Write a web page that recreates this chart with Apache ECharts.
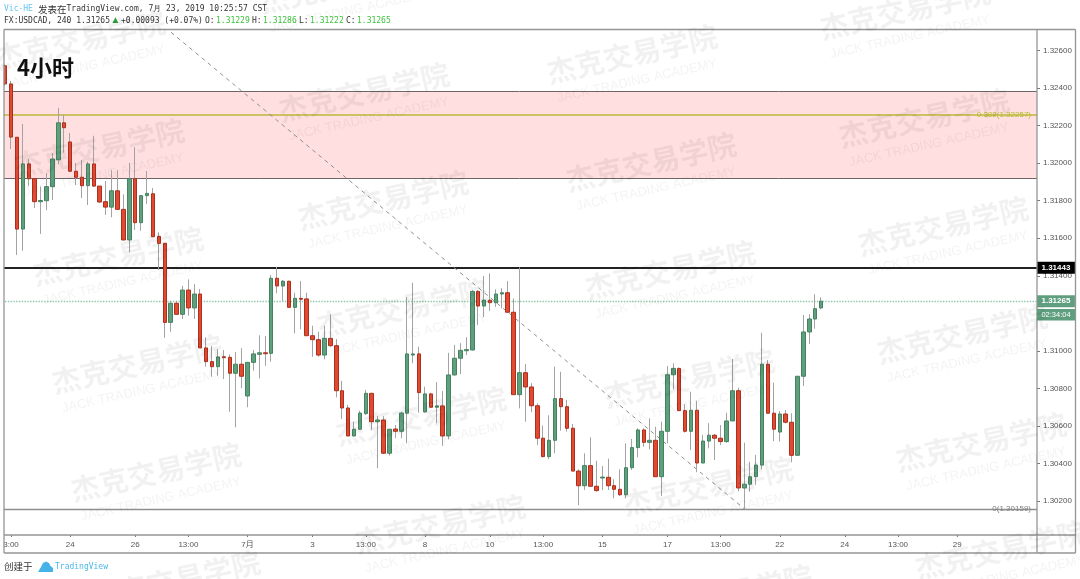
<!DOCTYPE html>
<html><head><meta charset="utf-8">
<style>html,body{margin:0;padding:0;background:#fff}#c{width:1080px;height:579px}</style>
<script src="https://cdn.jsdelivr.net/npm/echarts@6/dist/echarts.min.js"></script>
</head><body><div id="c"></div>
<script>
const opens=[1.32519,1.32422,1.32138,1.31649,1.31996,1.31917,1.31795,1.31800,1.31875,1.32018,
1.32215,1.32113,1.31957,1.31925,1.31880,1.31996,1.31878,1.31795,1.31766,1.31853,
1.31754,1.31591,1.31917,1.31683,1.31827,1.31837,1.31610,1.31573,1.31152,1.31254,
1.31195,1.31324,1.31229,1.31303,1.31016,1.30943,1.30916,1.30969,1.30966,1.30881,
1.30929,1.30760,1.30939,1.30982,1.30990,1.30987,1.31387,1.31346,1.31371,1.31232,
1.31280,1.31277,1.31081,1.31060,1.30978,1.31067,1.31028,1.30788,1.30696,1.30547,
1.30583,1.30666,1.30774,1.30623,1.30632,1.30455,1.30584,1.30572,1.30668,1.30978,
1.30984,1.30675,1.30771,1.30700,1.30707,1.30547,1.30872,1.30961,1.31001,1.31005,
1.31317,1.31239,1.31270,1.31257,1.31303,1.31310,1.31206,1.30767,1.30884,1.30808,
1.30708,1.30535,1.30437,1.30524,1.30746,1.30703,1.30588,1.30360,1.30282,1.30389,
1.30279,1.30323,1.30327,1.30282,1.30263,1.30234,1.30378,1.30485,1.30579,1.30513,
1.30524,1.30330,1.30572,1.30873,1.30907,1.30682,1.30572,1.30684,1.30403,1.30520,
1.30551,1.30535,1.30517,1.30627,1.30788,1.30270,1.30290,1.30330,1.30392,1.30929,
1.30668,1.30568,1.30664,1.30620,1.30444,1.30865,1.31101,1.31170,1.31229];
const closes=[1.32422,1.32139,1.31649,1.31996,1.31917,1.31795,1.31801,1.31875,1.32022,1.32215,
1.32189,1.31957,1.31925,1.31880,1.31996,1.31878,1.31793,1.31766,1.31853,1.31754,
1.31591,1.31917,1.31683,1.31827,1.31839,1.31608,1.31573,1.31152,1.31254,1.31195,
1.31324,1.31229,1.31303,1.31016,1.30943,1.30916,1.30968,1.30964,1.30881,1.30929,
1.30865,1.30939,1.30984,1.30990,1.30985,1.31387,1.31346,1.31371,1.31232,1.31280,
1.31275,1.31081,1.31060,1.30978,1.31067,1.31028,1.30788,1.30696,1.30547,1.30583,
1.30669,1.30774,1.30623,1.30632,1.30455,1.30583,1.30572,1.30669,1.30984,1.30984,
1.30778,1.30771,1.30700,1.30707,1.30547,1.30872,1.30961,1.31003,1.31007,1.31317,
1.31239,1.31271,1.31257,1.31303,1.31310,1.31206,1.30767,1.30884,1.30808,1.30708,
1.30535,1.30437,1.30524,1.30746,1.30703,1.30588,1.30360,1.30282,1.30389,1.30279,
1.30256,1.30328,1.30282,1.30263,1.30234,1.30378,1.30485,1.30579,1.30513,1.30524,
1.30330,1.30572,1.30873,1.30907,1.30682,1.30572,1.30684,1.30403,1.30520,1.30551,
1.30535,1.30517,1.30627,1.30788,1.30270,1.30290,1.30330,1.30392,1.30929,1.30668,
1.30583,1.30664,1.30620,1.30444,1.30865,1.31101,1.31170,1.31225,1.31265];
const lows=[1.32411,1.32075,1.31511,1.31534,1.31878,1.31761,1.31623,1.31750,1.31804,1.31994,
1.32056,1.31953,1.31884,1.31814,1.31777,1.31873,1.31789,1.31724,1.31712,1.31750,
1.31589,1.31525,1.31644,1.31640,1.31782,1.31607,1.31431,1.31070,1.31102,1.31195,
1.31170,1.31188,1.31170,1.31016,1.30916,1.30863,1.30868,1.30850,1.30676,1.30593,
1.30801,1.30700,1.30895,1.30854,1.30921,1.30943,1.31307,1.31267,1.31232,1.31094,
1.31115,1.31081,1.30969,1.30969,1.30955,1.31022,1.30753,1.30637,1.30547,1.30544,
1.30579,1.30659,1.30579,1.30375,1.30451,1.30442,1.30535,1.30535,1.30508,1.30934,
1.30671,1.30671,1.30700,1.30615,1.30494,1.30529,1.30869,1.30877,1.30978,1.31002,
1.31138,1.31180,1.31214,1.31235,1.31227,1.31205,1.30765,1.30694,1.30623,1.30673,
1.30499,1.30433,1.30423,1.30455,1.30575,1.30570,1.30360,1.30179,1.30259,1.30277,
1.30250,1.30259,1.30259,1.30215,1.30227,1.30215,1.30366,1.30433,1.30490,1.30476,
1.30330,1.30227,1.30508,1.30796,1.30682,1.30565,1.30472,1.30354,1.30401,1.30481,
1.30419,1.30499,1.30511,1.30627,1.30252,1.30157,1.30250,1.30286,1.30369,1.30668,
1.30520,1.30517,1.30614,1.30407,1.30444,1.30813,1.31037,1.31118,1.31222];
const highs=[1.32525,1.32438,1.32139,1.32209,1.32022,1.31917,1.31875,1.31948,1.32054,1.32295,
1.32256,1.32161,1.32001,1.32017,1.32008,1.32146,1.31878,1.31905,1.31964,1.31964,
1.31834,1.32002,1.32085,1.31827,1.31958,1.31868,1.31632,1.31575,1.31267,1.31267,
1.31346,1.31381,1.31356,1.31330,1.31073,1.31026,1.31010,1.31005,1.30982,1.30994,
1.31014,1.30941,1.31005,1.31083,1.31079,1.31404,1.31447,1.31378,1.31374,1.31310,
1.31372,1.31310,1.31134,1.31102,1.31134,1.31195,1.31063,1.30841,1.30712,1.30623,
1.30682,1.30792,1.30777,1.30653,1.30653,1.30583,1.30605,1.30676,1.31286,1.31363,
1.31022,1.30809,1.30777,1.30834,1.30786,1.30990,1.31032,1.31041,1.31073,1.31324,
1.31324,1.31399,1.31413,1.31328,1.31334,1.31372,1.31280,1.31445,1.30930,1.30828,
1.30721,1.30602,1.30657,1.30916,1.30889,1.30739,1.30611,1.30369,1.30455,1.30540,
1.30415,1.30387,1.30426,1.30316,1.30369,1.30508,1.30531,1.30588,1.30588,1.30641,
1.30596,1.30623,1.30920,1.30934,1.30911,1.30717,1.30783,1.30735,1.30552,1.30615,
1.30558,1.30605,1.30671,1.30957,1.30804,1.30511,1.30410,1.30446,1.31097,1.30952,
1.30831,1.30680,1.30685,1.30668,1.30866,1.31191,1.31195,1.31302,1.31286];

const xTickSlots=[1,11,22,31,41,52,61,71,82,91,101,112,121,131,142,151,161];
const xTickLabels=['3:00','24','26','13:00','7月','3','13:00','8','10','13:00','15','17','13:00','22','24','13:00','29'];
const yTicks=[1.302,1.304,1.306,1.308,1.310,1.312,1.314,1.316,1.318,1.320,1.322,1.324,1.326];
const slotCount=175;
const bandTop=1.32381, bandBottom=1.31919;
const fibLevel=1.32257, zeroLevel=1.30159, blackLevel=1.31443, lastPrice=1.31265;
const trendStart=[27,1.32725], trendEnd=[125,1.30159];
const wmColumns=[[80,40],[364,92],[632,54],[905,10]];
const wmChinese='杰克交易学院', wmEnglish='JACK TRADING ACADEMY';

const cats=Array.from({length:slotCount},(_,i)=>String(i));
const isTick=i=>xTickSlots.includes(i);
const full=opens.map((o,i)=>[o,closes[i],lows[i],highs[i]]);
const bodies=opens.map((o,i)=>[o,closes[i],Math.min(o,closes[i]),Math.max(o,closes[i])]);

const MONO='"DejaVu Sans Mono",monospace', SANS='"Liberation Sans",Arial,sans-serif', CJK='"Noto Sans CJK SC",sans-serif';
const frameColor='#959595';
function frameLine(x1,y1,x2,y2){return {type:'line',silent:true,z:60,shape:{x1,y1,x2,y2},style:{stroke:frameColor,lineWidth:1.3}};}
function txt(text,x,y,fill,font,extra){return {type:'text',silent:true,z:70,x,y,style:Object.assign({text,fill,font,verticalAlign:'middle',align:'left'},extra||{})};}

const gfx=[
 {type:'rect',silent:true,z:55,shape:{x:0,y:29,width:3.8,height:510},style:{fill:'#fff'}},
 frameLine(4,29.5,1075.5,29.5),frameLine(4,29.5,4,553),frameLine(1075.5,29.5,1075.5,553),
 frameLine(4,553,1075.5,553),frameLine(4,535,1075.5,535),frameLine(1037,29.5,1037,553),
 txt('Vic-HE',4,9,'#6cc5ee','8px '+MONO),
 txt('发表在',38,9,'#333','9.5px '+CJK),
 txt('TradingView.com, 7月 23, 2019 10:25:57 CST',66.5,9,'#333','8px '+MONO),
 txt('FX:USDCAD, 240 1.31265',4,21,'#333','8px '+MONO),
 txt('▲',110.5,20.5,'#2e9e3e','10px '+SANS),
 txt('+0.00093 (+0.07%)',121,21,'#333','8px '+MONO),
 txt('O:',205,21,'#333','8px '+MONO),txt('1.31229',216,21,'#3cc43c','8px '+MONO),
 txt('H:',252,21,'#333','8px '+MONO),txt('1.31286',263,21,'#3cc43c','8px '+MONO),
 txt('L:',299,21,'#333','8px '+MONO),txt('1.31222',310,21,'#3cc43c','8px '+MONO),
 txt('C:',346,21,'#333','8px '+MONO),txt('1.31265',357,21,'#3cc43c','8px '+MONO),
 txt('4小时',17,68,'#111','bold 22px '+CJK),
 {type:'rect',silent:true,z:65,shape:{x:1037,y:309,width:38,height:11.5},style:{fill:'#5f9f7f'}},
 txt('02:34:04',1056,315,'#fff','7.5px '+SANS,{align:'center'}),
 txt('创建于',4,566,'#333','9.5px '+CJK),
 {type:'polygon',silent:true,z:70,shape:{points:[[38,572],[41,567],[43,563],[46,561.5],[49,563],[50.5,566],[53,568],[53,572]]},style:{fill:'#45b3e8'}},
 txt('TradingView',55,567,'#4cb8e8','8px '+MONO)
];
const rot=12.5*Math.PI/180;
wmColumns.forEach(c=>{for(let k=-1;k<6;k++){
  const x=c[0]+k*19, y=c[1]+k*108;
  gfx.push({type:'text',silent:true,z:90,x,y,rotation:rot,style:{text:wmChinese,align:'center',verticalAlign:'middle',fill:'rgba(0,0,0,0.055)',font:'bold 29px '+CJK}});
  gfx.push({type:'text',silent:true,z:90,x:x+5,y:y+27,rotation:rot,style:{text:wmEnglish,align:'center',verticalAlign:'middle',fill:'rgba(0,0,0,0.05)',font:'13px '+SANS}});
}});

const chart=echarts.init(document.getElementById('c'),null,{renderer:'canvas'});
chart.setOption({
 animation:false,
 backgroundColor:'#fff',
 grid:{left:2.14,right:43,top:29.5,bottom:44,containLabel:false},
 xAxis:{type:'category',data:cats,boundaryGap:true,
  axisLine:{show:false},
  axisTick:{show:true,interval:(i)=>isTick(i),alignWithLabel:true,length:2,lineStyle:{color:'#777'}},
  axisLabel:{interval:(i)=>isTick(i),formatter:(v)=>xTickLabels[xTickSlots.indexOf(+v)]||'',fontSize:8,color:'#555',fontFamily:'"Liberation Sans","Noto Sans CJK SC",sans-serif',margin:6},
  splitLine:{show:false}},
 yAxis:{type:'value',position:'right',min:1.300195,max:1.32712,scale:true,
  axisLine:{show:false},
  axisTick:{show:true,length:3,customValues:yTicks,lineStyle:{color:'#777'}},
  axisLabel:{customValues:yTicks,formatter:(v)=>v.toFixed(5),fontSize:8,color:'#555',fontFamily:SANS,margin:6},
  splitLine:{show:false}},
 series:[
  {type:'line',name:'trend',data:[trendStart,trendEnd],symbol:'none',silent:true,z:2,clip:true,
   lineStyle:{color:'#8f8f8f',type:[4,4],width:1}},
  {type:'candlestick',name:'wicks',data:full,barWidth:1,z:3,silent:true,
   itemStyle:{color:'#a3a3a3',color0:'#a3a3a3',borderColor:'#a3a3a3',borderColor0:'#a3a3a3',borderWidth:1},
   markArea:{silent:true,z:1,itemStyle:{color:'#ffdfdf'},data:[[{yAxis:bandTop},{yAxis:bandBottom}]]},
   markLine:{silent:true,symbol:'none',z:2,animation:false,precision:5,
    data:[
     {yAxis:bandTop,lineStyle:{color:'#6e6666',width:1,type:'solid'},label:{show:false}},
     {yAxis:bandBottom,lineStyle:{color:'#6e6666',width:1,type:'solid'},label:{show:false}},
     {yAxis:fibLevel,lineStyle:{color:'#bdb83a',width:1.5,type:'solid'},
      label:{show:true,position:'insideEnd',distance:6,formatter:'0.382('+fibLevel+')',color:'#b5bd2a',fontSize:8,fontFamily:SANS}},
     {yAxis:zeroLevel,lineStyle:{color:'#8f8f8f',width:1.3,type:'solid'},
      label:{show:true,position:'insideEnd',distance:6,formatter:'0('+zeroLevel+')',color:'#808080',fontSize:8,fontFamily:SANS}},
     {yAxis:blackLevel,lineStyle:{color:'#222',width:2,type:'solid'},
      label:{show:true,position:'end',distance:0,formatter:String(blackLevel),color:'#fff',backgroundColor:'#000',fontWeight:'bold',fontSize:8,fontFamily:SANS,padding:[2,4.5]}},
     {yAxis:lastPrice,lineStyle:{color:'#8cc8a8',width:1.4,type:'dotted'},
      label:{show:true,position:'end',distance:0,formatter:String(lastPrice),color:'#fff',backgroundColor:'#5f9f7f',fontWeight:'bold',fontSize:8,fontFamily:SANS,padding:[2,4.5]}}
    ]}},
  {type:'candlestick',name:'bodies',data:bodies,barWidth:4,z:4,silent:true,
   itemStyle:{color:'#5f9f7d',color0:'#e04a30',borderColor:'#44835f',borderColor0:'#ad2f1e',borderWidth:1}}
 ],
 graphic:{elements:gfx}
});
</script></body></html>
